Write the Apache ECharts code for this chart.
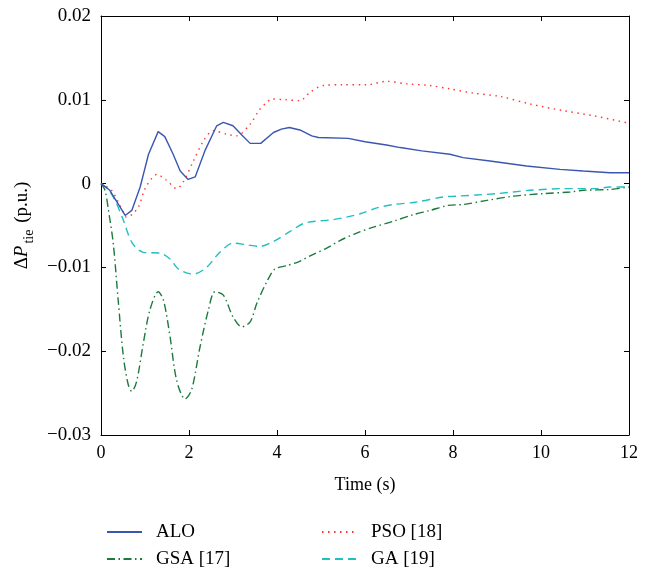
<!DOCTYPE html>
<html>
<head>
<meta charset="utf-8">
<script src="https://cdn.jsdelivr.net/npm/echarts@6/dist/echarts.min.js"></script>
<style>
  html, body { margin: 0; padding: 0; background: #fff; }
  #chart { width: 652px; height: 571px; }
</style>
</head>
<body>
<div id="chart"></div>
<script>
// values
const aloT = [0, 0.2, 0.4, 0.55, 0.7, 0.89, 1.08, 1.3, 1.45, 1.64, 1.8, 1.98, 2.14, 2.36, 2.63, 2.78, 3.0, 3.2, 3.39, 3.63, 3.92, 4.1, 4.28, 4.52, 4.79, 4.94, 5.62, 6.0, 6.49, 6.8, 7.29, 7.93, 8.23, 8.84, 9.67, 10.43, 10.96, 11.57, 12];
const aloV = [0, -0.0008, -0.0025, -0.0038, -0.0032, -0.0004, 0.0035, 0.0062, 0.0056, 0.0035, 0.0015, 0.0005, 0.0008, 0.0039, 0.0069, 0.0073, 0.0069, 0.0058, 0.0048, 0.0048, 0.0061, 0.0065, 0.0067, 0.0064, 0.0057, 0.0055, 0.0054, 0.0050, 0.0046, 0.0043, 0.0039, 0.0035, 0.0031, 0.0027, 0.0021, 0.0017, 0.0015, 0.0013, 0.0013];

const psoT = [0, 0.24, 0.45, 0.58, 0.7, 0.85, 1.0, 1.15, 1.27, 1.49, 1.72, 1.87, 2.1, 2.33, 2.55, 2.86, 3.08, 3.39, 3.6, 3.77, 3.88, 4.2, 4.52, 4.75, 5.05, 5.5, 6.04, 6.49, 6.95, 7.48, 7.93, 8.46, 9.07, 9.75, 10.51, 11.19, 12];
const psoV = [0, -0.0008, -0.0028, -0.004, -0.0037, -0.0028, -0.0006, 0.0006, 0.0011, 0.0004, -0.0006, 0.0002, 0.0027, 0.0051, 0.0063, 0.0059, 0.0057, 0.0071, 0.0088, 0.0097, 0.0101, 0.0100, 0.0099, 0.0109, 0.0117, 0.0118, 0.0118, 0.0122, 0.0119, 0.0117, 0.0113, 0.0108, 0.0104, 0.0095, 0.0087, 0.0081, 0.0072];

const gsaT = [0, 0.09, 0.17, 0.28, 0.39, 0.51, 0.62, 0.7, 0.81, 0.96, 1.11, 1.3, 1.42, 1.57, 1.72, 1.91, 2.06, 2.25, 2.44, 2.59, 2.78, 3.0, 3.2, 3.39, 3.54, 3.77, 3.95, 4.22, 4.5, 4.8, 5.13, 5.43, 5.81, 6.19, 6.64, 7.1, 7.48, 7.89, 8.23, 8.77, 9.37, 10.05, 10.66, 10.96, 11.57, 12];
const gsaV = [0, -0.0008, -0.0032, -0.0072, -0.0139, -0.0207, -0.0240, -0.0248, -0.0236, -0.0191, -0.0151, -0.0129, -0.0139, -0.0183, -0.0235, -0.0257, -0.0246, -0.0195, -0.0151, -0.0129, -0.0133, -0.0159, -0.0171, -0.0165, -0.0143, -0.0117, -0.0102, -0.0098, -0.0093, -0.0085, -0.0077, -0.0068, -0.0059, -0.0052, -0.0045, -0.0037, -0.0032, -0.0026, -0.0025, -0.0020, -0.0015, -0.0012, -0.0010, -0.0008, -0.0007, -0.0004];

const gaT = [0, 0.15, 0.32, 0.51, 0.7, 0.96, 1.34, 1.57, 1.76, 2.1, 2.4, 2.7, 3.0, 3.31, 3.61, 3.92, 4.3, 4.64, 5.28, 5.58, 5.89, 6.27, 6.64, 7.17, 7.78, 8.08, 8.99, 9.75, 10.51, 11.27, 11.57, 12];
const gaV = [0, -0.0006, -0.002, -0.0044, -0.007, -0.0082, -0.0083, -0.009, -0.0102, -0.0108, -0.010, -0.0082, -0.0071, -0.0073, -0.0075, -0.0069, -0.0057, -0.0047, -0.0043, -0.0040, -0.0036, -0.0029, -0.0025, -0.0022, -0.0016, -0.0015, -0.0012, -0.0008, -0.0006, -0.0006, -0.0004, -0.0004];

const names = ['ALO', 'PSO [18]', 'GSA [17]', 'GA [19]'];

const pairs = (t, v) => t.map((x, i) => [x, v[i]]);
const serif = 'Liberation Serif';

const chart = echarts.init(document.getElementById('chart'));

const hiddenAxis = {
  axisLine: { show: true, onZero: false, lineStyle: { color: '#000', width: 1 } },
  axisTick: { show: true, inside: true, length: 5, lineStyle: { color: '#000' } },
  axisLabel: { show: false },
  splitLine: { show: false }
};

// one legend per entry so each can sit where the figure has it
const legendAt = (name, left, top) => ({
  data: [name], left: left, top: top, orient: 'vertical',
  itemWidth: 35, itemHeight: 20,
  itemStyle: { color: 'rgba(0,0,0,0)', borderWidth: 0 },
  textStyle: { fontFamily: serif, fontSize: 19, color: '#000', lineHeight: 20, padding: [0, 0, 0, 9] }
});

const option = {
  animation: false,
  grid: { left: 101, right: 23, top: 16, bottom: 136 },
  legend: [
    legendAt(names[0], 101, 517),
    legendAt(names[2], 101, 544),
    legendAt(names[1], 316, 517),
    legendAt(names[3], 316, 544)
  ],
  xAxis: [
    {
      type: 'value', min: 0, max: 12, interval: 2,
      name: 'Time (s)', nameLocation: 'middle', nameGap: 41,
      nameTextStyle: { fontFamily: serif, fontSize: 18, color: '#000' },
      axisLine: { onZero: false, lineStyle: { color: '#000', width: 1 } },
      axisTick: { inside: true, length: 5, lineStyle: { color: '#000' } },
      axisLabel: { fontFamily: serif, fontSize: 18, color: '#000', margin: 9 },
      splitLine: { show: false }
    },
    Object.assign({ type: 'value', position: 'top', min: 0, max: 12, interval: 2 }, hiddenAxis)
  ],
  yAxis: [
    {
      type: 'value', min: -0.03, max: 0.02, interval: 0.01,
      name: '{a|Δ}{i|P}{s|tie}{a| (p.u.)}',
      nameLocation: 'middle', nameRotate: 90, nameGap: 66,
      nameTextStyle: {
        fontFamily: serif, fontSize: 18, color: '#000',
        rich: {
          a: { fontFamily: serif, fontSize: 19, color: '#000', lineHeight: 20, verticalAlign: 'top' },
          i: { fontFamily: serif, fontSize: 19, color: '#000', fontStyle: 'italic', lineHeight: 20, verticalAlign: 'top', padding: [0, 1, 0, 0] },
          s: { fontFamily: serif, fontSize: 14, color: '#000', lineHeight: 14, verticalAlign: 'top', padding: [10, 2, 0, 1] }
        }
      },
      axisLine: { show: true, onZero: false, lineStyle: { color: '#000', width: 1 } },
      axisTick: { show: true, inside: true, length: 5, lineStyle: { color: '#000' } },
      axisLabel: {
        fontFamily: serif, fontSize: 19, color: '#000', margin: 10,
        formatter: v => Math.abs(v) < 1e-9 ? '0' : v.toFixed(2).replace('-', '\u2212')
      },
      splitLine: { show: false }
    },
    Object.assign({ type: 'value', position: 'right', min: -0.03, max: 0.02, interval: 0.01 }, hiddenAxis)
  ],
  series: [
    {
      name: names[0], type: 'line', symbol: 'none', data: pairs(aloT, aloV),
      lineStyle: { color: '#3a56b0', width: 1.4, type: 'solid' }, itemStyle: { color: '#3a56b0' }, z: 5
    },
    {
      name: names[1], type: 'line', symbol: 'none', smooth: 0.3, data: pairs(psoT, psoV),
      lineStyle: { color: '#ff3535', width: 1.4, type: [1.5, 4.5] }, itemStyle: { color: '#ff3535' }
    },
    {
      name: names[2], type: 'line', symbol: 'none', smooth: 0.3, data: pairs(gsaT, gsaV),
      lineStyle: { color: '#1b7a3c', width: 1.4, type: [8, 3.5, 1.5, 3.5] }, itemStyle: { color: '#1b7a3c' }
    },
    {
      name: names[3], type: 'line', symbol: 'none', smooth: 0.3, data: pairs(gaT, gaV),
      lineStyle: { color: '#22bfc0', width: 1.4, type: [8, 5] }, itemStyle: { color: '#22bfc0' }
    }
  ]
};

chart.setOption(option);
</script>
</body>
</html>
